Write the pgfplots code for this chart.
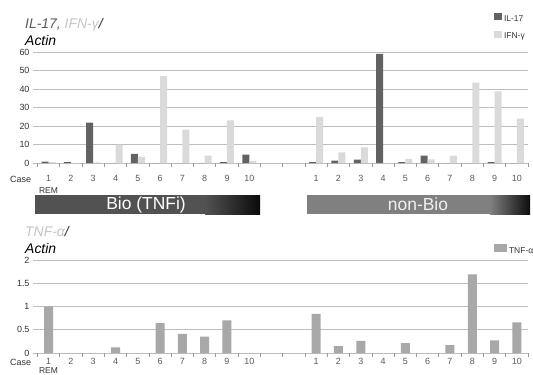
\documentclass[border=0pt]{standalone}
\usepackage{pgfplots}
\usepackage{pgfplotstable}
\pgfplotsset{compat=1.18}
\usepackage{fontspec}
\setmainfont{Liberation Sans}
\definecolor{ilc}{HTML}{626262}
\definecolor{ifnc}{HTML}{DADADA}
\definecolor{tnfc}{HTML}{A8A8A8}
\definecolor{gridc}{HTML}{BDBDBD}
\definecolor{tickc}{HTML}{9A9A9A}
\definecolor{labc}{HTML}{5A5A5A}
\definecolor{ytc}{HTML}{333333}
\definecolor{bioA}{HTML}{525252}
\definecolor{bioD}{HTML}{0A0A0A}
\definecolor{nbA}{HTML}{808080}
\definecolor{nbD}{HTML}{0C0C0C}

\pgfplotstableread{
x il ifn
0 0.8 0.5
1 0.5 0
2 21.8 0.4
3 0 10
4 5 3.5
5 0 47
6 0 18
7 0 4
8 0.5 23
9 4.5 1.2
12 0.5 25
13 1.3 5.8
14 1.8 8.5
15 59 0
16 0.5 2.2
17 4 2
18 0 4
19 0 43.4
20 0.5 38.7
21 0 24
}\topdata

\pgfplotstableread{
x tnf
0 1.0
1 0
2 0
3 0.12
4 0
5 0.64
6 0.41
7 0.35
8 0.70
9 0
12 0.84
13 0.15
14 0.26
15 0
16 0.21
17 0
18 0.17
19 1.69
20 0.27
21 0.66
}\botdata

\pgfplotsset{
  common/.style={
    scale only axis,
    xmin=-0.7, xmax=21.5,
    axis line style={draw=none},
    ymajorgrids,
    grid style={gridc, line width=0.8bp},
    xtick={0,1,2,3,4,5,6,7,8,9,12,13,14,15,16,17,18,19,20,21},
    xticklabels={1,2,3,4,5,6,7,8,9,10,1,2,3,4,5,6,7,8,9,10},
    minor xtick={-0.5,0.5,...,21.5},
    major tick length=0pt,
    minor tick length=4bp,
    tick align=outside,
    tick pos=left,
    minor x tick style={tickc, line width=0.8bp},
    /pgf/number format/assume math mode=true,
    xticklabel style={font=\fontsize{9}{9}\selectfont, text=labc},
    yticklabel style={font=\fontsize{9}{9}\selectfont, text=ytc},
    legend style={draw=none, fill=none, inner sep=0pt, font=\fontsize{8.5}{9}\selectfont, text=ytc, row sep=5.5bp, cells={anchor=west}},
  }
}

\begin{document}
\begin{tikzpicture}[x=1bp,y=1bp]
\useasboundingbox (0,0) rectangle (533,374);

\begin{axis}[common,
  at={(33bp,211bp)}, anchor=south west,
  width=495bp, height=111bp,
  ymin=0, ymax=60, ytick={0,10,20,30,40,50,60},
  xticklabel style={yshift=-9bp},
  ybar, bar width=7bp,
  legend style={at={(rel axis cs:0.931,1.350)}, anchor=north west},
  legend image code/.code={\fill[#1] (0bp,-1bp) rectangle (8bp,6bp);},
]
\addplot[fill=ilc, draw=none, bar shift=-3.5bp] table[x=x,y=il]{\topdata};
\addplot[fill=ifnc, draw=none, bar shift=3.5bp] table[x=x,y=ifn]{\topdata};
\legend{IL-17, IFN-γ}
\end{axis}

\begin{axis}[common,
  at={(33bp,21bp)}, anchor=south west,
  width=495bp, height=93bp,
  ymin=0, ymax=2, ytick={0,0.5,1,1.5,2},
  xticklabel style={yshift=-2bp},
  ybar, bar width=9bp,
  legend style={at={(rel axis cs:0.931,1.172)}, anchor=north west},
  legend image code/.code={\fill[#1] (0bp,-1bp) rectangle (13bp,7bp);},
]
\addplot[fill=tnfc, draw=none, bar shift=0bp] table[x=x,y=tnf]{\botdata};
\legend{TNF-α}
\end{axis}

% titles
\node[anchor=base west, inner sep=0pt, font=\fontsize{14}{14}\selectfont\itshape] at (25bp,345.7bp)
  {\textcolor{labc}{IL-17, }\textcolor{ifnc!90!black}{IFN-γ}\textcolor{ytc}{/}};
\node[anchor=base west, inner sep=0pt, font=\fontsize{14}{14}\selectfont\itshape] at (25bp,328.3bp) {Actin};
\node[anchor=base west, inner sep=0pt, font=\fontsize{14}{14}\selectfont\itshape] at (25bp,137.3bp)
  {\textcolor{ifnc!90!black}{TNF-α}\textcolor{ytc}{/}};
\node[anchor=base west, inner sep=0pt, font=\fontsize{14}{14}\selectfont\itshape] at (25bp,120.7bp) {Actin};

% Case / REM labels
\node[anchor=west, inner sep=0pt, text=ytc, font=\fontsize{9}{9}\selectfont] at (10bp,195bp) {Case};
\node[inner sep=0pt, text=ytc, font=\fontsize{8.5}{9}\selectfont] at (48.5bp,183bp) {REM};
\node[anchor=west, inner sep=0pt, text=ytc, font=\fontsize{9}{9}\selectfont] at (10bp,12bp) {Case};
\node[inner sep=0pt, text=ytc, font=\fontsize{8.5}{9}\selectfont] at (48.5bp,3.6bp) {REM};

% group banners
\fill[bioA] (35bp,160bp) rectangle (206bp,179bp);
\shade[left color=bioA, right color=bioD] (205bp,160bp) rectangle (260bp,179bp);
\node[text=white, font=\fontsize{17.5}{17.5}\selectfont] at (146bp,169.5bp) {Bio (TNFi)};
\fill[nbA] (307bp,160bp) rectangle (491bp,179bp);
\shade[left color=nbA, right color=nbD] (490bp,160bp) rectangle (530bp,179bp);
\node[text=white!94!black, font=\fontsize{17.5}{17.5}\selectfont] at (418bp,169.5bp) {non-Bio};
\end{tikzpicture}
\end{document}
